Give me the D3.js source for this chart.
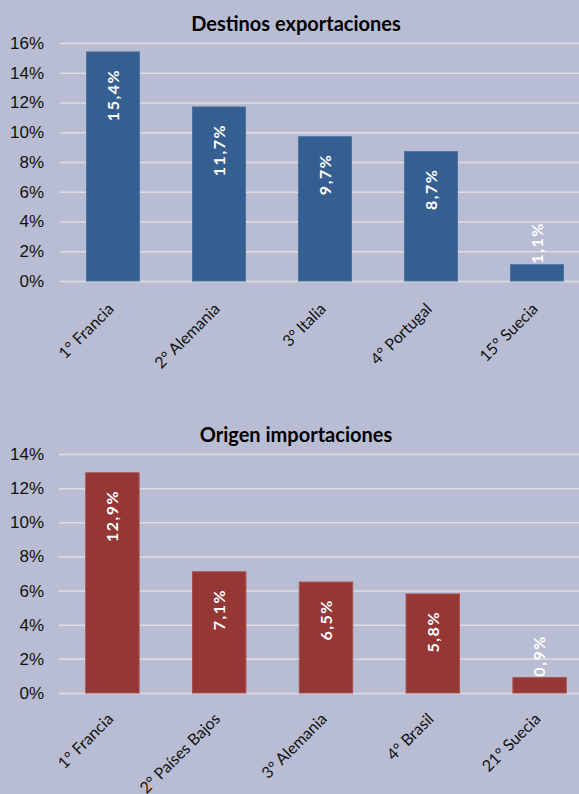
<!DOCTYPE html>
<html lang="es">
<head>
<meta charset="utf-8">
<title>Destinos exportaciones / Origen importaciones</title>
<script src="https://d3js.org/d3.v7.min.js"></script>
<style>
  body { margin: 0; background: #b8bdd3; }
  svg { display: block; font-family: Lato, "Open Sans", sans-serif; }
  .grid line { stroke: #dcdde3; stroke-width: 1.5; }
  .grid .domain { display: none; }
  .ylab text { font-size: 17px; fill: #111; }
  .xlab text { font-size: 16px; fill: #111; }
</style>
</head>
<body>
<script>
// datos
var expCategories = ["1° Francia", "2° Alemania", "3° Italia", "4° Portugal", "15° Suecia"];
var expValues = [15.4, 11.7, 9.7, 8.7, 1.1];
var expTicks = [0, 2, 4, 6, 8, 10, 12, 14, 16];

var impCategories = ["1° Francia", "2° Países Bajos", "3° Alemania", "4° Brasil", "21° Suecia"];
var impValues = [12.9, 7.1, 6.5, 5.8, 0.9];
var impTicks = [0, 2, 4, 6, 8, 10, 12, 14];

var W = 579, H = 794;

var svg = d3.select("body").append("svg")
  .attr("width", W)
  .attr("height", H);

svg.append("rect").attr("width", W).attr("height", H).attr("fill", "#b8bdd3");

function fmt(v) { return v.toFixed(1).replace(".", ",") + "%"; }

function drawChart(opts) {
  var g = svg.append("g");

  var x = d3.scaleBand()
    .domain(opts.categories)
    .range([opts.left, opts.right])
    .paddingInner(0.5)
    .paddingOuter(0.25);

  var y = d3.scaleLinear()
    .domain([0, d3.max(opts.ticks)])
    .range([opts.bottom, opts.top]);

  // title
  g.append("text")
    .attr("x", opts.titleX)
    .attr("y", opts.titleY)
    .attr("text-anchor", "middle")
    .attr("font-size", 20)
    .attr("font-weight", "bold")
    .attr("fill", "#000")
    .text(opts.title);

  // gridlines
  g.append("g")
    .attr("class", "grid")
    .attr("transform", "translate(" + opts.left + ",0)")
    .call(d3.axisRight(y).tickValues(opts.ticks).tickSize(W - opts.left).tickFormat(""));

  // y labels
  var yl = g.append("g")
    .attr("class", "ylab")
    .attr("transform", "translate(44,0)")
    .call(d3.axisLeft(y).tickValues(opts.ticks).tickSize(0).tickPadding(0)
      .tickFormat(function(d) { return d + "%"; }));
  yl.select(".domain").remove();
  yl.selectAll("text").attr("font-family", null).attr("font-size", null);

  // bars
  g.selectAll(".bar")
    .data(opts.values)
    .enter()
    .append("rect")
    .attr("class", "bar")
    .attr("x", function(d, i) { return x(opts.categories[i]); })
    .attr("y", function(d) { return y(d); })
    .attr("width", x.bandwidth())
    .attr("height", function(d) { return y(0) - y(d); })
    .attr("fill", opts.color)
    .attr("stroke", opts.edge)
    .attr("stroke-width", 1);

  // value labels
  g.selectAll(".val")
    .data(opts.values)
    .enter()
    .append("text")
    .attr("class", "val")
    .attr("transform", function(d, i) {
      var cx = x(opts.categories[i]) + x.bandwidth() / 2;
      var h = y(0) - y(d);
      var yy = h < 45 ? y(d) - 1 : y(d) + 17;
      return "translate(" + cx + "," + yy + ") rotate(-90)";
    })
    .attr("text-anchor", function(d) { return (y(0) - y(d)) < 45 ? "start" : "end"; })
    .attr("dy", "0.36em")
    .attr("font-size", 16)
    .attr("font-weight", "bold")
    .attr("letter-spacing", 1.5)
    .attr("fill", "#fff")
    .text(fmt);

  // category labels
  g.append("g")
    .attr("class", "xlab")
    .selectAll("text")
    .data(opts.categories)
    .enter()
    .append("text")
    .attr("transform", function(d) {
      var cx = x(d) + x.bandwidth() / 2;
      return "translate(" + (cx - 2) + "," + (opts.bottom + opts.xOff) + ") rotate(-45)";
    })
    .attr("text-anchor", "end")
    .attr("dy", "0.35em")
    .text(function(d) { return d; });
}

drawChart({
  title: "Destinos exportaciones",
  titleX: 296, titleY: 31,
  categories: expCategories,
  values: expValues,
  ticks: expTicks,
  left: 60, right: 590,
  top: 43, bottom: 281,
  xOff: 25,
  color: "#365f91", edge: "#4d72a0"
});

drawChart({
  title: "Origen importaciones",
  titleX: 296, titleY: 442,
  categories: impCategories,
  values: impValues,
  ticks: impTicks,
  left: 59, right: 593,
  top: 454, bottom: 693,
  xOff: 23,
  color: "#953735", edge: "#a8504e"
});
</script>
</body>
</html>
